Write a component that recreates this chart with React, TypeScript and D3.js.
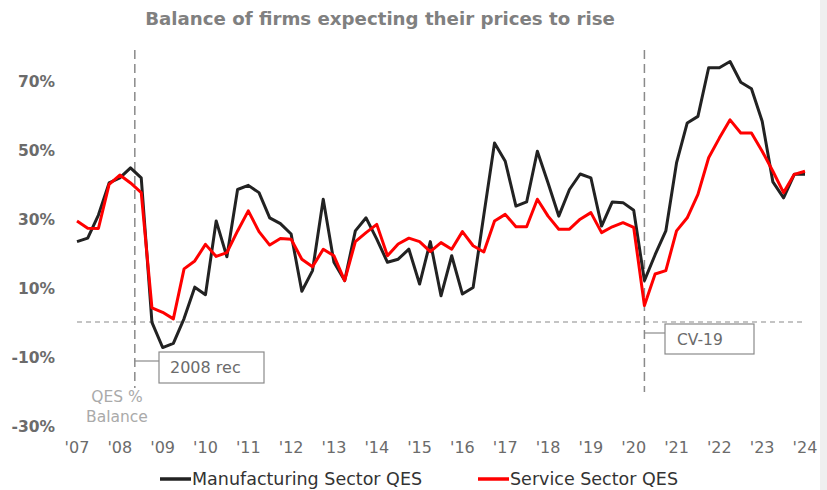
import React from "react";
import * as d3 from "d3";

const manufacturing = [
  23.3, 24.3, 31, 40.3, 41.8, 44.7, 41.8, -0.1, -7.4, -6.2, 1, 10.1, 7.9, 29.3, 18.9, 38.4,
  39.6, 37.5, 30.2, 28.5, 25.5, 8.9, 14.9, 35.6, 17.3, 12.0, 26.4, 30.2, 24.0, 17.3, 18.2, 21.1,
  11.0, 23.3, 7.6, 19.2, 8.1, 10.0, 31, 51.9, 46.6, 33.6, 34.8, 49.5, 40.3, 30.7, 38.4, 42.9,
  41.8, 27.8, 34.8, 34.6, 32.4, 12.0, 19.5, 26.4, 46.1, 57.7, 59.6, 73.7, 73.7, 75.5, 69.5, 67.6,
  58.2, 40.6, 36.0, 42.8, 42.8,
];

const services = [
  29.3, 27.2, 27.1, 39.9, 42.6, 40.3, 37.5, 4.1, 2.8, 0.9, 15.4, 17.7, 22.5, 19.0, 20.1, 26.4,
  32.2, 26.2, 22.3, 24.2, 24.0, 18.2, 16.0, 21.1, 19.2, 12.0, 23.3, 25.9, 28.3, 19.2, 22.6, 24.3,
  23.3, 20.4, 23.0, 21.1, 26.2, 22.1, 20.3, 29.3, 31.2, 27.6, 27.6, 35.6, 30.7, 26.9, 26.9, 29.8,
  31.7, 25.9, 27.6, 28.8, 27.4, 4.8, 13.9, 14.9, 26.4, 30.2, 37.0, 47.6, 53.3, 58.6, 54.8, 54.8,
  49.5, 43.7, 37.5, 42.8, 43.7,
];

const yearLabels = ["'07", "'08", "'09", "'10", "'11", "'12", "'13", "'14", "'15", "'16", "'17", "'18", "'19", "'20", "'21", "'22", "'23", "'24"];
const yTicks = [70, 50, 30, 10, -10, -30];
const seriesNames = ["Manufacturing Sector QES", "Service Sector QES"];
const title = "Balance of firms expecting their prices to rise";
const recessions = [
  { label: "2008 rec", index: 5.4 },
  { label: "CV-19", index: 53 },
];

const FONT = "'DejaVu Sans', sans-serif";

export default function App() {
  const W = 827;
  const H = 490;
  const x = d3.scaleLinear().domain([0, 68]).range([77, 805]);
  const y = d3.scaleLinear().domain([-30, 70]).range([425.5, 80.5]);
  const line = d3
    .line<number>()
    .x((_, i) => x(i))
    .y((d) => y(d));

  const recX0 = x(recessions[0].index);
  const recX1 = x(recessions[1].index);

  return (
    <svg
      width={W}
      height={H}
      style={{ position: "absolute", left: 0, top: 0, background: "#fff" }}
      fontFamily={FONT}
    >
      <rect x={820} y={0} width={7} height={H} fill="#efefef" />
      <text x={380} y={25} textAnchor="middle" fontSize={18.2} fontWeight={700} fill="#808080">
        {title}
      </text>

      {yTicks.map((t) => (
        <text key={t} x={55} y={y(t) + 6.5} textAnchor="end" fontSize={15.5} fontWeight={700} fill="#6b6b6b">
          {t}%
        </text>
      ))}

      {yearLabels.map((l, k) => (
        <text key={l} x={x(k * 4)} y={453} textAnchor="middle" fontSize={16} fill="#6b6b6b">
          {l}
        </text>
      ))}

      <line x1={77} x2={805} y1={y(0)} y2={y(0)} stroke="#8a8a8a" strokeWidth={1.2} strokeDasharray="5,4" />

      <line x1={recX0} x2={recX0} y1={50} y2={388} stroke="#8a8a8a" strokeWidth={1.5} strokeDasharray="9,5" />
      <line x1={recX1} x2={recX1} y1={50} y2={392} stroke="#8a8a8a" strokeWidth={1.5} strokeDasharray="9,5" />

      <path d={line(manufacturing) || ""} fill="none" stroke="#222" strokeWidth={3} strokeLinejoin="round" />
      <path d={line(services) || ""} fill="none" stroke="#ff0000" strokeWidth={3} strokeLinejoin="round" />

      {/* 2008 rec annotation */}
      <line x1={recX0} x2={159} y1={361} y2={361} stroke="#8a8a8a" strokeWidth={1.2} />
      <rect x={159} y={352} width={105} height={31} fill="#fff" stroke="#8a8a8a" strokeWidth={1.2} />
      <text x={170} y={373} fontSize={16} fill="#6b6b6b">
        {recessions[0].label}
      </text>

      {/* CV-19 annotation */}
      <line x1={recX1} x2={665} y1={333} y2={333} stroke="#8a8a8a" strokeWidth={1.2} />
      <rect x={665} y={324} width={89} height={30} fill="#fff" stroke="#8a8a8a" strokeWidth={1.2} />
      <text x={677} y={345} fontSize={15.5} fill="#6b6b6b">
        {recessions[1].label}
      </text>

      <text x={117} y={402} textAnchor="middle" fontSize={15.5} fill="#aaaaaa">
        QES %
      </text>
      <text x={117} y={422} textAnchor="middle" fontSize={15.5} fill="#aaaaaa">
        Balance
      </text>

      {/* legend */}
      <line x1={160} x2={191} y1={479} y2={479} stroke="#222" strokeWidth={3.5} />
      <text x={192} y={485} fontSize={17.5} fill="#333">
        {seriesNames[0]}
      </text>
      <line x1={478} x2={509} y1={479} y2={479} stroke="#ff0000" strokeWidth={3.5} />
      <text x={510} y={485} fontSize={17.5} fill="#333">
        {seriesNames[1]}
      </text>
    </svg>
  );
}
